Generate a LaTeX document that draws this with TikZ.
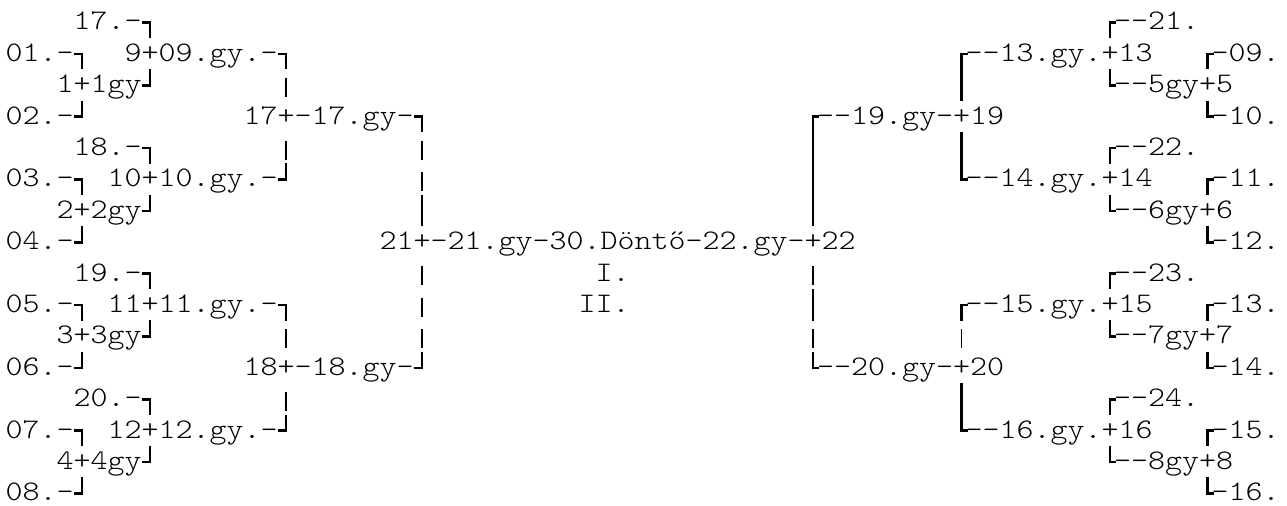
\documentclass[tikz,border=0pt]{standalone}
\usepackage{fontspec}
\setmonofont{lmmonolt10-regular.otf}[FakeStretch=1.143]
\newcommand\Bof[1]{\pgfmathsetmacro\bb{30+31.4*(#1-1)}}
% text at column (left part grid)
\newcommand\TL[4]{\Bof{#3}\node[txt] (#1) at ({5.5+17*#2},\bb) {#4};}
% text at absolute x
\newcommand\TA[4]{\Bof{#3}\node[txt] (#1) at (#2,\bb) {#4};}
% corners: down-left, up-left, down-right, up-right
\newcommand\CDL[2]{\Bof{#2}\draw[thk] ({#1-8.5},\bb-7.5) -- (#1,\bb-7.5) -- (#1,\bb+8);}
\newcommand\CUL[2]{\Bof{#2}\draw[thk] ({#1-8.5},\bb-7.5) -- (#1,\bb-7.5) -- (#1,\bb-23.5);}
\newcommand\CDR[2]{\Bof{#2}\draw[thk] ({#1+6},\bb-7.5) -- (#1,\bb-7.5) -- (#1,\bb+8);}
\newcommand\CUR[2]{\Bof{#2}\draw[thk] ({#1+6},\bb-7.5) -- (#1,\bb-7.5) -- (#1,\bb-23.5);}
\newcommand\VK[2]{\Bof{#2}\draw[thk] (#1,\bb-23.5) -- (#1,\bb+8);}
\newcommand\VN[2]{\Bof{#2}\draw[thn] (#1,\bb-15) -- (#1,\bb+4);}
\begin{document}
\begin{tikzpicture}[x=0.5pt,y=-0.5pt,
  txt/.style={anchor=base west,inner sep=0pt,outer sep=0pt,font=\ttfamily\fontsize{14.17pt}{17pt}\selectfont,text=black},
  thk/.style={line width=1.25pt,line join=miter},
  thn/.style={line width=0.6pt}]
\useasboundingbox (0,0) rectangle (1287,506);
% ---------- left half ----------
\TL{a1}{4}{1}{17.-}\CDL{150}{1}
\TL{a2}{0}{2}{01.-}\CDL{82}{2}\TL{b2}{7}{2}{9+09.gy.-}\CDL{286}{2}
\TL{a3}{3}{3}{1+1gy}\CUL{150}{3}\VN{286}{3}
\TL{a4}{0}{4}{02.-}\CUL{82}{4}\TL{b4}{14}{4}{17+-17.gy-}\CDL{422}{4}
\TL{a5}{4}{5}{18.-}\CDL{150}{5}\VN{286}{5}\VN{422}{5}
\TL{a6}{0}{6}{03.-}\CDL{82}{6}\TL{b6}{6}{6}{10+10.gy.-}\CUL{286}{6}\VN{422}{6}
\TL{a7}{3}{7}{2+2gy}\CUL{150}{7}\VK{422}{7}
\TL{a8}{0}{8}{04.-}\CUL{82}{8}\TL{fin}{22}{8}{21+-21.gy-30.Döntő-22.gy-+22}
\TL{a9}{4}{9}{19.-}\CDL{150}{9}\VN{422}{9}
\TL{a10}{0}{10}{05.-}\CDL{82}{10}\TL{b10}{6}{10}{11+11.gy.-}\CDL{286}{10}\VN{422}{10}
\TL{a11}{3}{11}{3+3gy}\CUL{150}{11}\VN{286}{11}\VN{422}{11}
\TL{a12}{0}{12}{06.-}\CUL{82}{12}\TL{b12}{14}{12}{18+-18.gy-}\CUL{422}{12}
\TL{a13}{4}{13}{20.-}\CDL{150}{13}\VN{286}{13}
\TL{a14}{0}{14}{07.-}\CDL{82}{14}\TL{b14}{6}{14}{12+12.gy.-}\CUL{286}{14}
\TL{a15}{3}{15}{4+4gy}\CUL{150}{15}
\TL{a16}{0}{16}{08.-}\CUL{82}{16}
% ---------- centre ----------
\TA{p1}{595.5}{9}{I.}
\TA{p2}{578.5}{10}{II.}
% ---------- right half ----------
\CDR{1110}{1}\TA{r1}{1114}{1}{--21.}
\CDR{961.5}{2}\TA{q2}{965.5}{2}{--13.gy.+13}\CDR{1207.5}{2}\TA{s2}{1211.5}{2}{-09.}
\VK{961.5}{3}\CUR{1110}{3}\TA{r3}{1114}{3}{--5gy+5}
\CDR{813}{4}\TA{m4}{817}{4}{--19.gy-+19}\CUR{1207.5}{4}\TA{s4}{1211.5}{4}{-10.}
\VK{813}{5}\VK{961.5}{5}\CDR{1110}{5}\TA{r5}{1114}{5}{--22.}
\VK{813}{6}\CUR{961.5}{6}\TA{q6}{965.5}{6}{--14.gy.+14}\CDR{1207.5}{6}\TA{s6}{1211.5}{6}{-11.}
\VK{813}{7}\CUR{1110}{7}\TA{r7}{1114}{7}{--6gy+6}
\CUR{1207.5}{8}\TA{s8}{1211.5}{8}{-12.}
\VN{813}{9}\CDR{1110}{9}\TA{r9}{1114}{9}{--23.}
\VK{813}{10}\CDR{961.5}{10}\TA{q10}{965.5}{10}{--15.gy.+15}\CDR{1207.5}{10}\TA{s10}{1211.5}{10}{-13.}
\VN{813}{11}\VN{961.5}{11}\CUR{1110}{11}\TA{r11}{1114}{11}{--7gy+7}
\CUR{813}{12}\TA{m12}{817}{12}{--20.gy-+20}\CUR{1207.5}{12}\TA{s12}{1211.5}{12}{-14.}
\VK{961.5}{13}\CDR{1110}{13}\TA{r13}{1114}{13}{--24.}
\CUR{961.5}{14}\TA{q14}{965.5}{14}{--16.gy.+16}\CDR{1207.5}{14}\TA{s14}{1211.5}{14}{-15.}
\CUR{1110}{15}\TA{r15}{1114}{15}{--8gy+8}
\CUR{1207.5}{16}\TA{s16}{1211.5}{16}{-16.}
\end{tikzpicture}
\end{document}
